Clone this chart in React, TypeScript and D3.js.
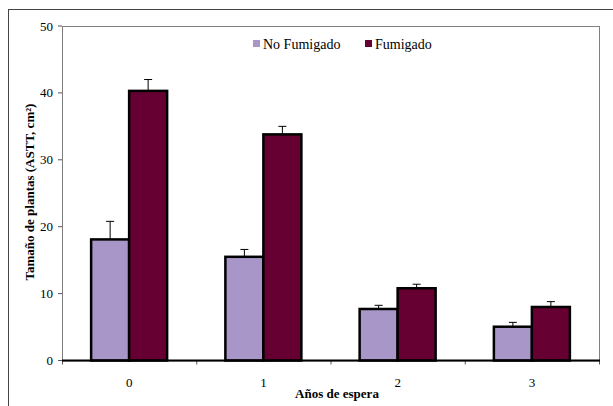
import React from "react";
import * as d3 from "d3";

const categories = ["0", "1", "2", "3"];
const seriesNames = ["No Fumigado", "Fumigado"];
const noFumigado = [18.1, 15.5, 7.7, 5.05];
const noFumigadoErr = [2.7, 1.1, 0.55, 0.65];
const fumigado = [40.3, 33.8, 10.8, 8.0];
const fumigadoErr = [1.7, 1.2, 0.6, 0.8];
const yTicks = [0, 10, 20, 30, 40, 50];
const colors = ["#A996C8", "#660033"];

export default function App() {
  const W = 613, H = 406;
  const left = 62, right = 599, top = 26, bottom = 360.5;
  const x = d3.scaleBand<string>().domain(categories).range([left, right]);
  const y = d3.scaleLinear().domain([0, 50]).range([bottom, top]);
  const barW = 38;
  const series = [
    { vals: noFumigado, errs: noFumigadoErr },
    { vals: fumigado, errs: fumigadoErr },
  ];
  const ts = { fontFamily: "Liberation Serif, Times New Roman, DejaVu Serif, serif" };
  return (
    <svg width={W} height={H} style={{ position: "absolute", left: 0, top: 0 }}>
      <rect x={0} y={0} width={W} height={H} fill="#fff" />
      <rect x={8.5} y={9.5} width={700} height={500} fill="none" stroke="#444" strokeWidth={1} />
      <rect x={left + 0.5} y={top + 0.5} width={right - left} height={bottom - top} fill="none" stroke="#808080" strokeWidth={1} />
      {yTicks.map((t) => (
        <g key={t}>
          <line x1={left - 4} x2={left} y1={y(t)} y2={y(t)} stroke="#555" />
          <text style={ts} x={left - 9} y={y(t)} dy="0.35em" textAnchor="end" fontSize={13}>{t}</text>
        </g>
      ))}
      {categories.map((c) => (
        <line key={"b" + c} x1={(x(c) as number) + 0.5} x2={(x(c) as number) + 0.5} y1={bottom} y2={bottom + 4} stroke="#555" />
      ))}
      <line x1={right + 0.5} x2={right + 0.5} y1={bottom} y2={bottom + 4} stroke="#555" />
      {categories.map((c, i) => {
        const cx = (x(c) as number) + x.bandwidth() / 2;
        return (
          <g key={c}>
            {series.map((s, si) => {
              const bx = cx - barW + si * barW;
              const vy = y(s.vals[i]);
              const ey = y(s.vals[i] + s.errs[i]);
              const mx = bx + barW / 2;
              return (
                <g key={si}>
                  <line x1={mx} x2={mx} y1={vy} y2={ey} stroke="#000" strokeWidth={1} />
                  <line x1={mx - 4} x2={mx + 4} y1={ey} y2={ey} stroke="#000" strokeWidth={1} />
                  <rect x={bx} y={vy} width={barW} height={bottom - vy} fill={colors[si]} stroke="#000" strokeWidth={2.5} />
                </g>
              );
            })}
            <text style={ts} x={cx} y={382} dy="0.35em" textAnchor="middle" fontSize={13}>{c}</text>
          </g>
        );
      })}
      <line x1={left} x2={right + 1} y1={bottom} y2={bottom} stroke="#000" strokeWidth={2} />
      {seriesNames.map((n, i) => {
        const lx = i === 0 ? 253 : 365;
        return (
          <g key={n}>
            <rect x={lx} y={40} width={7} height={7} fill={colors[i]} />
            <text style={ts} x={lx + 10} y={44} dy="0.35em" fontSize={14}>{n}</text>
          </g>
        );
      })}
      <text style={ts} x={337} y={393} dy="0.35em" textAnchor="middle" fontSize={13} fontWeight="bold">Años de espera</text>
      <text style={ts} transform={`translate(29,192) rotate(-90)`} textAnchor="middle" dy="0.35em" fontSize={13} fontWeight="bold">Tamaño de plantas (ASTT, cm²)</text>
    </svg>
  );
}
